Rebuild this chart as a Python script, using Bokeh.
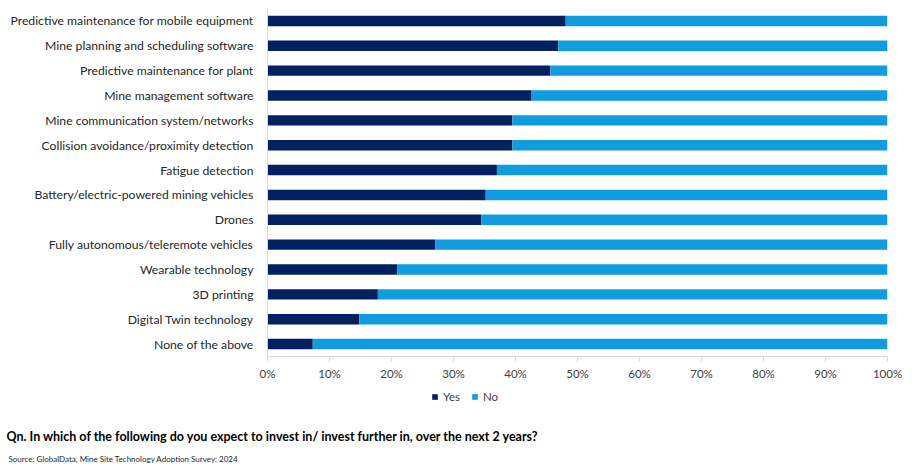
from bokeh.plotting import figure
from bokeh.layouts import column
from bokeh.models import FactorRange, Range1d, Legend, LegendItem, Title, FixedTicker, CustomJSTickFormatter
from bokeh.embed import file_html
from bokeh.resources import INLINE

categories = [
    "Predictive maintenance for mobile equipment",
    "Mine planning and scheduling software",
    "Predictive maintenance for plant",
    "Mine management software",
    "Mine communication system/networks",
    "Collision avoidance/proximity detection",
    "Fatigue detection",
    "Battery/electric-powered mining vehicles",
    "Drones",
    "Fully autonomous/teleremote vehicles",
    "Wearable technology",
    "3D printing",
    "Digital Twin technology",
    "None of the above",
]
yes_pct = [48.1, 46.9, 45.6, 42.6, 39.5, 39.5, 37.0, 35.2, 34.5, 27.1, 20.9, 17.8, 14.8, 7.3]
no_pct = [round(100 - v, 1) for v in yes_pct]
series = ["Yes", "No"]
colors = ["#002060", "#119CDF"]
x_ticks = [0, 10, 20, 30, 40, 50, 60, 70, 80, 90, 100]
question = "Qn. In which of the following do you expect to invest in/ invest further in, over the next 2 years?"
source = "Source: GlobalData, Mine Site Technology Adoption Survey: 2024"

FONT = "Lato"
W = 910
LEFT, RIGHT = 267, 23
NAN = float("nan")

data = {"cat": categories, "Yes": yes_pct, "No": no_pct}

# ---- main chart ----
p = figure(
    width=W, height=385,
    y_range=FactorRange(factors=list(reversed(categories)), range_padding=0),
    x_range=Range1d(0, 100),
    output_backend="svg", toolbar_location=None,
    min_border_left=LEFT, min_border_right=RIGHT, min_border_top=8, min_border_bottom=29,
)
p.outline_line_color = None
p.background_fill_color = "white"
p.border_fill_color = "white"

r = p.hbar_stack(series, y="cat", height=0.42, color=colors, source=data, line_color=None)

p.xgrid.grid_line_color = None
p.ygrid.grid_line_color = None

xa = p.xaxis[0]
xa.ticker = FixedTicker(ticks=x_ticks)
xa.formatter = CustomJSTickFormatter(code="return tick + '%';")
xa.axis_line_color = "#d9d9d9"
xa.major_tick_line_color = "#d9d9d9"
xa.major_tick_out = 5
xa.major_tick_in = 0
xa.minor_tick_line_color = None
xa.major_label_standoff = 5
xa.major_label_text_font = FONT
xa.major_label_text_font_size = "11.5px"
xa.major_label_text_color = "#404040"

ya = p.yaxis[0]
ya.axis_line_color = "#d9d9d9"
ya.major_tick_line_color = None
ya.minor_tick_line_color = None
ya.major_label_standoff = 8
ya.major_label_text_font = FONT
ya.major_label_text_font_size = "12.2px"
ya.major_label_text_color = "#262626"

# ---- footer: legend, question, source ----
FH = 35
f = figure(
    width=W, height=82, x_range=Range1d(0, 100), y_range=Range1d(0, FH),
    x_axis_type=None, y_axis_type=None,
    output_backend="svg", toolbar_location=None,
    min_border_left=LEFT, min_border_right=RIGHT, min_border_top=0, min_border_bottom=47,
)
f.outline_line_color = None
f.xgrid.grid_line_color = None
f.ygrid.grid_line_color = None
f.background_fill_color = "white"
f.border_fill_color = "white"

# legend swatch renderers (no visible geometry)
swatches = [f.quad(left=[NAN], right=[NAN], top=[NAN], bottom=[NAN], color=c, line_color=None)
            for c in colors]
legend = Legend(
    items=[LegendItem(label=s, renderers=[rr]) for s, rr in zip(series, swatches)],
    orientation="horizontal", location=(164, 17),
    label_text_font=FONT, label_text_font_size="11.5px", label_text_color="#404040",
    glyph_width=7, glyph_height=7, label_standoff=5, spacing=8,
    padding=0, margin=0, border_line_color=None, background_fill_alpha=0,
    label_height=12,
)
f.add_layout(legend, "center")

f.add_layout(Title(text=question, align="left", offset=-261, standoff=12,
                   text_font=FONT, text_font_size="12.5px", text_font_style="bold",
                   text_color="#000000"), "below")
f.add_layout(Title(text=source, align="left", offset=-259, standoff=4,
                   text_font=FONT, text_font_size="8px", text_font_style="normal",
                   text_color="#262626"), "below")

layout = column(p, f, spacing=0)
open("out.html", "w").write(file_html(layout, INLINE))
